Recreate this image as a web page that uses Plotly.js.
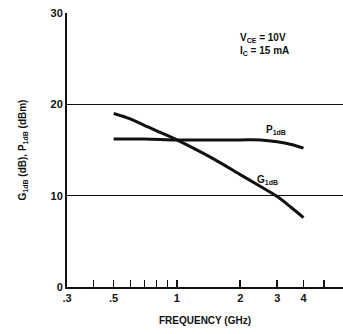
<!DOCTYPE html>
<html><head><meta charset="utf-8">
<script src="https://cdn.plot.ly/plotly-3.0.1.min.js"></script>
<style>html,body{margin:0;padding:0;background:#fff}#c{width:343px;height:334px}</style>
</head><body><div id="c"></div>
<script>
const freqG = [0.5, 0.6, 0.7, 0.8, 0.9, 1.0, 1.5, 2.0, 2.5, 3.0, 3.5, 4.0];
const gainG = [19.0, 18.4, 17.7, 17.1, 16.6, 16.1, 14.0, 12.3, 11.0, 9.9, 8.7, 7.6];
const freqP = [0.5, 0.7, 1.0, 1.5, 2.0, 2.5, 3.0, 3.5, 4.0];
const powP = [16.2, 16.2, 16.1, 16.1, 16.1, 16.1, 15.9, 15.6, 15.2];
const xTickVals = [0.3, 0.5, 1, 2, 3, 4];
const xTickText = ['.3', '.5', '1', '2', '3', '4'];
const xMinorVals = [0.4, 0.6, 0.7, 0.8, 0.9, 5];
const yTickVals = [0, 10, 20, 30];

const F = 'Liberation Sans, Arial, sans-serif';
const data = [
  {x: freqG, y: gainG, mode: 'lines', line: {color: '#111', width: 3, shape: 'spline'}, hoverinfo: 'skip'},
  {x: freqP, y: powP, mode: 'lines', line: {color: '#111', width: 3, shape: 'spline'}, hoverinfo: 'skip'}
];
const layout = {
  width: 343, height: 334, showlegend: false,
  margin: {l: 67, r: 0, t: 13, b: 47},
  paper_bgcolor: '#fff', plot_bgcolor: '#fff',
  font: {family: F, color: '#111'},
  xaxis: {type: 'log', range: [Math.log10(0.3), 0.79], tickvals: xTickVals, ticktext: xTickText,
    ticks: 'inside', ticklen: 7, tickwidth: 1.5, tickcolor: '#111', showgrid: false, zeroline: false,
    minor: {tickvals: xMinorVals, ticks: 'inside', ticklen: 7, tickwidth: 1.5, tickcolor: '#111', showgrid: false},
    showline: true, linecolor: '#111', linewidth: 2,
    tickfont: {size: 11, family: F, weight: 'bold'},
    title: {text: '<b>FREQUENCY (GHz)</b>', font: {size: 10, family: F}, standoff: 14}},
  yaxis: {range: [0, 30], tickvals: yTickVals, ticks: '', showgrid: true, gridcolor: '#111', gridwidth: 1.2,
    zeroline: false, showline: true, linecolor: '#111', linewidth: 2,
    tickfont: {size: 11, family: F, weight: 'bold'},
    title: {text: '<b>G<sub>1dB</sub> (dB), P<sub>1dB</sub> (dBm)</b>', font: {size: 10, family: F}, standoff: 22}},
  shapes: [{type: 'line', xref: 'x', yref: 'paper', x0: 0, x1: 0, y0: 0, y1: 1, line: {color: '#111', width: 1.5}}],
  annotations: [
    {x: Math.log10(2.95), y: 17.2, xref: 'x', yref: 'y', text: '<b>P<sub>1dB</sub></b>', showarrow: false, font: {size: 10, family: F}, xanchor: 'center'},
    {x: Math.log10(2.7), y: 11.7, xref: 'x', yref: 'y', text: '<b>G<sub>1dB</sub></b>', showarrow: false, font: {size: 10, family: F}, xanchor: 'center'},
    {x: Math.log10(1.95), y: 27.3, xref: 'x', yref: 'y', text: '<b>V<sub>CE</sub> = 10V</b>', showarrow: false, font: {size: 10, family: F}, xanchor: 'left'},
    {x: Math.log10(1.95), y: 25.8, xref: 'x', yref: 'y', text: '<b>I<sub>C</sub> = 15 mA</b>', showarrow: false, font: {size: 10, family: F}, xanchor: 'left'}
  ]
};
Plotly.newPlot('c', data, layout, {staticPlot: true, displayModeBar: false});
</script></body></html>
